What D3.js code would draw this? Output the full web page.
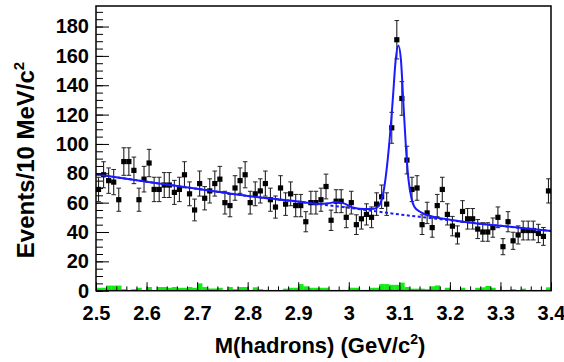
<!DOCTYPE html>
<html>
<head>
<meta charset="utf-8">
<script src="https://cdn.jsdelivr.net/npm/d3@7"></script>
<style>
  body { margin: 0; background: #fff; }
  svg { display: block; }
  text { font-family: "Liberation Sans", Arial, Helvetica, sans-serif; font-weight: bold; }
</style>
</head>
<body>
<svg width="564" height="362"></svg>
<script>
// 10 MeV bins from 2.5 to 3.4 GeV
var massMin = 2.5, massMax = 3.4, binWidth = 0.01;

var counts = [69,79,75,74,62,88,88,82,62,76,87,69,69,72,72,67,69,79,66,55,73,63,68,73,76,60,58,70,75,79,60,
              66,68,73,62,57,70,59,66,58,58,47,60,60,62,71,48,61,61,50,60,45,49,52,50,59,64,59,111,171,131,
              89,69,70,45,53,43,58,69,52,44,38,54,49,49,42,40,40,43,50,30,47,34,38,41,41,41,39,37,68];

// green (sideband / background sample) histogram
var sideband = [2,2,3.5,3.5,3.5,1,0,1,2,0,2.5,0.5,2.5,2.5,2,2.5,2,2,2.5,2,5,2.5,1.5,1.5,2,0,2.5,1,2.5,2.5,
                0.5,2.3,1,0,0,0,0,1.4,2,2,4.5,3,2,2,2,2,0.5,0.5,0.5,0.5,2,2,0.5,0.5,2,2,4.5,4.5,4,4,
                5.5,2.5,1.4,1.4,1.4,1,3,3.6,0.5,2,0,0,2,0.5,0.5,2,2.3,3.2,2,0,0,0,1,0,1.4,0,0,0,0.5,2.3];

// fit: total (solid) and background only (dotted)
var fitX = [2.5, 2.6, 2.7, 2.8, 2.9, 2.94, 2.96, 2.975, 2.99, 3.01, 3.03, 3.05, 3.06, 3.07, 3.08, 3.087,
            3.093, 3.098, 3.103, 3.108, 3.113, 3.118, 3.124, 3.13, 3.14, 3.155, 3.2, 3.3, 3.4];
var fitY = [79.3, 74.3, 69.4, 64.6, 60.8, 59.2, 59.6, 60.5, 59.5, 56.5, 55.6, 55.8, 58, 70, 100, 130,
            158, 167, 158, 128, 98, 76, 63, 57, 54, 51.6, 48.3, 44.2, 40.7];
var bgX = [2.5, 2.6, 2.7, 2.8, 2.9, 3.0, 3.1, 3.2, 3.3, 3.4];
var bgY = [79.3, 74.3, 69.4, 64.6, 60.6, 56.5, 52.0, 48.0, 44.2, 40.7];

var xTicks = [2.5, 2.6, 2.7, 2.8, 2.9, 3.0, 3.1, 3.2, 3.3, 3.4];
var xTickLabels = ["2.5", "2.6", "2.7", "2.8", "2.9", "3", "3.1", "3.2", "3.3", "3.4"];
var yTicks = [0, 20, 40, 60, 80, 100, 120, 140, 160, 180];

var svg = d3.select("svg"),
    fLeft = 96, fRight = 551, fTop = 6, fBottom = 290.7;

var x = d3.scaleLinear().domain([massMin, massMax]).range([fLeft, fRight]);
var y = d3.scaleLinear().domain([0, 194]).range([fBottom, fTop]);

var bins = counts.map(function(c, i) {
    var lo = massMin + i * binWidth;
    return { lo: lo, mid: lo + binWidth / 2, n: c, g: sideband[i] };
});

// green histogram
svg.append("g").selectAll("rect")
    .data(bins)
    .enter().append("rect")
        .attr("x", function(d) { return x(d.lo); })
        .attr("width", function(d) { return x(d.lo + binWidth) - x(d.lo) + 0.3; })
        .attr("y", function(d) { return y(d.g); })
        .attr("height", function(d) { return y(0) - y(d.g); })
        .attr("fill", "#11ee11");

// data points with poisson errors
var pts = svg.append("g");
var pt = pts.selectAll("g")
    .data(bins)
    .enter().append("g");

pt.append("line")
    .attr("x1", function(d) { return x(d.mid); })
    .attr("x2", function(d) { return x(d.mid); })
    .attr("y1", function(d) { return y(d.n + Math.sqrt(d.n)); })
    .attr("y2", function(d) { return y(d.n - Math.sqrt(d.n)); })
    .attr("stroke", "#222").attr("stroke-width", 1.1);
[1, -1].forEach(function(s) {
    pt.append("line")
        .attr("x1", function(d) { return x(d.mid) - 2.3; })
        .attr("x2", function(d) { return x(d.mid) + 2.3; })
        .attr("y1", function(d) { return y(d.n + s * Math.sqrt(d.n)); })
        .attr("y2", function(d) { return y(d.n + s * Math.sqrt(d.n)); })
        .attr("stroke", "#222").attr("stroke-width", 1);
});
pt.append("rect")
    .attr("x", function(d) { return x(d.mid) - 2.6; })
    .attr("y", function(d) { return y(d.n) - 2.6; })
    .attr("width", 5.2).attr("height", 5.2)
    .attr("fill", "#000");

// fit curves
var line = d3.line()
    .x(function(d) { return x(d[0]); })
    .y(function(d) { return y(d[1]); })
    .curve(d3.curveMonotoneX);

svg.append("path")
    .attr("d", line(d3.zip(bgX, bgY)))
    .attr("fill", "none")
    .attr("stroke", "#1a1aff")
    .attr("stroke-width", 2)
    .attr("stroke-dasharray", "3,2.5");

svg.append("path")
    .attr("d", line(d3.zip(fitX, fitY)))
    .attr("fill", "none")
    .attr("stroke", "#1a1aff")
    .attr("stroke-width", 2);

// axes
var yMajor = d3.axisLeft(y).tickValues(yTicks).tickSizeInner(-13).tickSizeOuter(0).tickPadding(7);
var yMinor = d3.axisLeft(y).tickValues(d3.range(0, 195, 5)).tickSize(-7).tickFormat("");
var xMajor = d3.axisBottom(x).tickValues(xTicks).tickSizeInner(-8.5).tickSizeOuter(0).tickPadding(15)
    .tickFormat(function(d, i) { return xTickLabels[i]; });
var xMinor = d3.axisBottom(x).tickValues(d3.range(0, 46).map(function(i) { return massMin + i * 0.02; }))
    .tickSize(-4.3).tickFormat("");

svg.append("g").attr("transform", "translate(" + fLeft + ",0)").call(yMinor);
var gy = svg.append("g").attr("transform", "translate(" + fLeft + ",0)").call(yMajor);
svg.append("g").attr("transform", "translate(0," + fBottom + ")").call(xMinor);
var gx = svg.append("g").attr("transform", "translate(0," + fBottom + ")").call(xMajor);

svg.selectAll(".domain").remove();
svg.selectAll(".tick line").attr("stroke", "#000").attr("stroke-width", 1);
gy.selectAll("text").attr("font-size", 20).attr("fill", "#000");
gx.selectAll("text").attr("font-size", 20).attr("fill", "#000");

// frame
svg.append("rect")
    .attr("x", fLeft).attr("y", fTop)
    .attr("width", fRight - fLeft).attr("height", fBottom - fTop)
    .attr("fill", "none").attr("stroke", "#000").attr("stroke-width", 1.5);

// titles
var xt = svg.append("text")
    .attr("x", 320).attr("y", 353)
    .attr("text-anchor", "middle")
    .attr("font-size", 22);
xt.append("tspan").text("M(hadrons) (GeV/c");
xt.append("tspan").attr("dy", -9).attr("font-size", 14).text("2");
xt.append("tspan").attr("dy", 9).text(")");

var yt = svg.append("text")
    .attr("transform", "translate(34,160) rotate(-90)")
    .attr("text-anchor", "middle")
    .attr("font-size", 24);
yt.append("tspan").text("Events/10 MeV/c");
yt.append("tspan").attr("dy", -10).attr("font-size", 15).text("2");
</script>
</body>
</html>
